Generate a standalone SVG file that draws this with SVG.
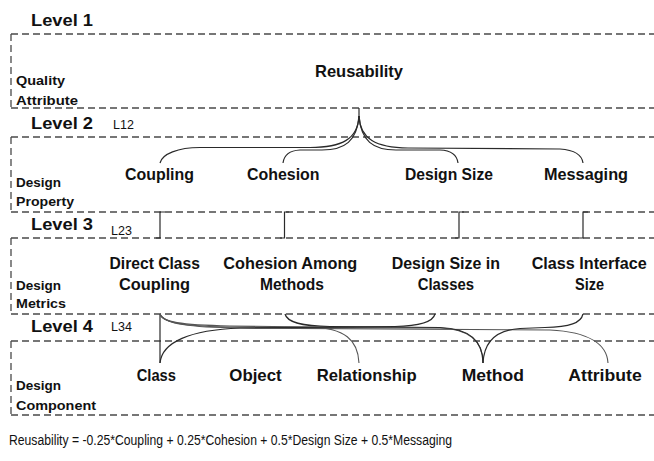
<svg xmlns="http://www.w3.org/2000/svg" width="654" height="461" viewBox="0 0 654 461">
<style>
  .dash { stroke: #4a4a4a; stroke-width: 1.3; stroke-dasharray: 7 4; fill: none; }
  .b { font-family: "Liberation Sans", Arial, sans-serif; font-weight: bold; font-size: 16.5px; fill: #111; }
  .lv { font-family: "Liberation Sans", Arial, sans-serif; font-weight: bold; font-size: 17px; fill: #111; }
  .sm { font-family: "Liberation Sans", Arial, sans-serif; font-weight: bold; font-size: 12.5px; fill: #111; }
  .r { font-family: "Liberation Sans", Arial, sans-serif; font-size: 12.5px; fill: #111; }
  .f { font-family: "Liberation Sans", Arial, sans-serif; font-size: 15.5px; fill: #111; }
  .c { stroke: #2a2a2a; stroke-width: 1.2; fill: none; }
  .g { stroke: #555; stroke-width: 1.1; fill: none; }
</style>

<g id="grid">
  <path class="dash" d="M11,34 H654 M11,108 H654 M11,137 H654 M11,212 H654 M11,238 H654 M11,314 H654 M11,341 H654 M11,415 H654"/>
  <path class="dash" d="M11,34 V108 M11,137 V212 M11,238 V314 M11,341 V415"/>
</g>

<g id="level-labels">
  <text class="lv" x="31" y="26" textLength="62" lengthAdjust="spacingAndGlyphs">Level 1</text>
  <text class="lv" x="31" y="129" textLength="62" lengthAdjust="spacingAndGlyphs">Level 2</text>
  <text class="r" x="113" y="129">L12</text>
  <text class="lv" x="31" y="230" textLength="62" lengthAdjust="spacingAndGlyphs">Level 3</text>
  <text class="r" x="111" y="235">L23</text>
  <text class="lv" x="31" y="332" textLength="62" lengthAdjust="spacingAndGlyphs">Level 4</text>
  <text class="r" x="111" y="331">L34</text>
</g>

<g id="row-labels">
  <text class="sm" x="16" y="85" textLength="49" lengthAdjust="spacingAndGlyphs">Quality</text>
  <text class="sm" x="16" y="104.5" textLength="62" lengthAdjust="spacingAndGlyphs">Attribute</text>
  <text class="sm" x="16" y="187" textLength="45" lengthAdjust="spacingAndGlyphs">Design</text>
  <text class="sm" x="16" y="206" textLength="58" lengthAdjust="spacingAndGlyphs">Property</text>
  <text class="sm" x="16" y="290" textLength="45" lengthAdjust="spacingAndGlyphs">Design</text>
  <text class="sm" x="16" y="308" textLength="50" lengthAdjust="spacingAndGlyphs">Metrics</text>
  <text class="sm" x="16" y="390" textLength="45" lengthAdjust="spacingAndGlyphs">Design</text>
  <text class="sm" x="16" y="410" textLength="80" lengthAdjust="spacingAndGlyphs">Component</text>
</g>

<g id="connectors">
  <!-- L12 -->
  <path class="c" d="M359,108 V117"/>
  <path class="c" d="M359,116 C358,139 342,147.5 310,147.5 L200,147.5 C178,147.5 162,154 160,163"/>
  <path class="c" d="M359,116 C357,141 345,150 322,150 L300,150 C290,150.5 284,155 283,163"/>
  <path class="c" d="M359,116 C361,141 373,150 396,150 L440,150 C452,150.5 457,155 458,163"/>
  <path class="c" d="M359,116 C360,139 376,147.5 408,148 L560,149 C574,150 582,155 583,163"/>
  <!-- L23 -->
  <path class="c" d="M156,238 H160 V212 H165"/>
  <path class="c" d="M280,238 H284.5 V212 H289"/>
  <path class="c" d="M455,238 H459 V212 H464"/>
  <path class="c" d="M579,238 H583 V212 H588"/>
  <!-- L34 -->
  <path class="c" d="M160,314 V363"/>
  <path class="g" d="M160,314 C162,322 180,325 230,326 L310,327 C345,328 358,340 359,363"/>
  <path class="g" d="M160,314 C163,323 185,326.5 235,327 L440,328 C470,329 483,342 483,363"/>
  <path class="g" d="M160,314 C164,324 190,327.5 240,328 L550,330 C590,332 607,345 608,363"/>
  <path class="c" d="M285,314 C287,322 300,326 330,326.5 L440,327.5 C470,328.5 483,342 483,363"/>
  <path class="c" d="M435,314 C433,322 420,326 395,326.5 L240,328 C190,330 162,342 160,363"/>
  <path class="c" d="M583,314 C581,323 570,327 545,327.5 L520,328.5 C495,330 484,342 483,363"/>
</g>

<g id="n-reusability">
  <text class="b" x="315" y="77" textLength="88" lengthAdjust="spacingAndGlyphs">Reusability</text>
</g>

<g id="n-coupling"><text class="b" x="125" y="180" textLength="69" lengthAdjust="spacingAndGlyphs">Coupling</text></g>
<g id="n-cohesion"><text class="b" x="247" y="180" textLength="72.5" lengthAdjust="spacingAndGlyphs">Cohesion</text></g>
<g id="n-designsize"><text class="b" x="405" y="180" textLength="88" lengthAdjust="spacingAndGlyphs">Design Size</text></g>
<g id="n-messaging"><text class="b" x="544" y="180" textLength="84" lengthAdjust="spacingAndGlyphs">Messaging</text></g>

<g id="n-dcc">
  <text class="b" x="109.5" y="269" textLength="90.5" lengthAdjust="spacingAndGlyphs">Direct Class</text>
  <text class="b" x="119" y="290" textLength="71" lengthAdjust="spacingAndGlyphs">Coupling</text>
</g>
<g id="n-cam">
  <text class="b" x="223.3" y="269" textLength="134" lengthAdjust="spacingAndGlyphs">Cohesion Among</text>
  <text class="b" x="260" y="290" textLength="64" lengthAdjust="spacingAndGlyphs">Methods</text>
</g>
<g id="n-dsc">
  <text class="b" x="391.7" y="269" textLength="108.3" lengthAdjust="spacingAndGlyphs">Design Size in</text>
  <text class="b" x="417.7" y="290" textLength="56.3" lengthAdjust="spacingAndGlyphs">Classes</text>
</g>
<g id="n-cis">
  <text class="b" x="531.7" y="269" textLength="115" lengthAdjust="spacingAndGlyphs">Class Interface</text>
  <text class="b" x="575" y="290" textLength="29" lengthAdjust="spacingAndGlyphs">Size</text>
</g>

<g id="n-class"><text class="b" x="136.7" y="381" textLength="39.3" lengthAdjust="spacingAndGlyphs">Class</text></g>
<g id="n-object"><text class="b" x="229.3" y="381" textLength="52.4" lengthAdjust="spacingAndGlyphs">Object</text></g>
<g id="n-relationship"><text class="b" x="316.7" y="381" textLength="100" lengthAdjust="spacingAndGlyphs">Relationship</text></g>
<g id="n-method"><text class="b" x="461.7" y="381" textLength="62.3" lengthAdjust="spacingAndGlyphs">Method</text></g>
<g id="n-attribute"><text class="b" x="568.3" y="381" textLength="73.4" lengthAdjust="spacingAndGlyphs">Attribute</text></g>

<g id="formula">
  <text class="f" x="9" y="445" textLength="443" lengthAdjust="spacingAndGlyphs">Reusability = -0.25*Coupling + 0.25*Cohesion + 0.5*Design Size + 0.5*Messaging</text>
</g>
</svg>
